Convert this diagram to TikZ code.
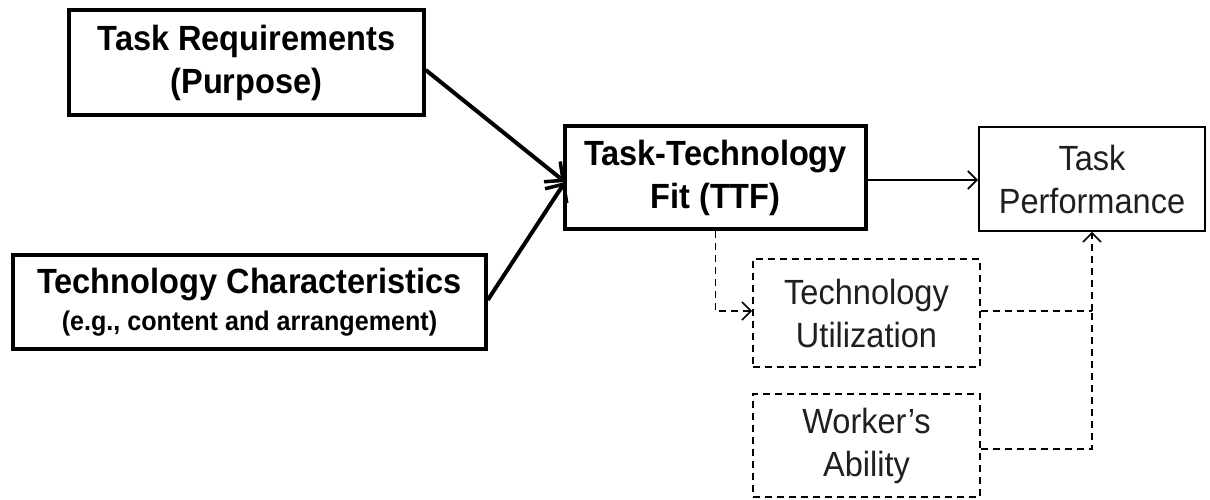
\documentclass[tikz,border=0pt]{standalone}
\usepackage{fontspec}
\setmainfont[FakeStretch=0.93]{Liberation Sans}
\usetikzlibrary{arrows.meta}
\begin{document}
\begin{tikzpicture}[x=1pt,y=-1pt,
  box/.style={draw=black,rectangle,align=center,inner sep=0pt,
    font=\fontsize{35}{43}\selectfont},
  strongbox/.style={box,line width=3.5pt,font=\fontsize{35}{43}\selectfont\bfseries},
  plainbox/.style={box,line width=1.8pt,text=black!88},
  dashbox/.style={box,line width=1.8pt,dash pattern=on 7pt off 5pt,text=black!88},
  strongarrow/.style={line width=4pt,-{Straight Barb[length=14pt,width=26pt,line width=3.5pt]}},
  thinarrow/.style={line width=1.8pt,-{Straight Barb[length=9pt,width=18pt,line width=1.8pt]}},
  dasharrow/.style={line width=1.6pt,dash pattern=on 7pt off 5pt,
    -{Straight Barb[length=9pt,width=18pt,line width=1.6pt]}},
  dashline/.style={line width=1.6pt,dash pattern=on 7pt off 5pt}]
\useasboundingbox (0,0) rectangle (1210,499);

% boxes
\node[strongbox,minimum width=355pt,minimum height=105pt] (treq) at (246.5,62.5)
  {Task Requirements\\(Purpose)};
\node[strongbox,minimum width=473pt,minimum height=94pt] (tchar) at (249.5,302)
  {Technology Characteristics\\[-6pt]{\fontsize{27}{30}\selectfont (e.g., content and arrangement)}};
\node[strongbox,minimum width=301pt,minimum height=103pt] (ttf) at (715.5,177.5)
  {Task-Technology\\Fit (TTF)};
\node[plainbox,minimum width=226pt,minimum height=104pt] (tperf) at (1092,179)
  {Task\\Performance};
\node[dashbox,minimum width=227pt,minimum height=108pt] (tutil) at (866.5,313)
  {Technology\\Utilization};
\node[dashbox,minimum width=227pt,minimum height=103pt] (ability) at (866.5,445.5)
  {Worker's\\Ability};

% connectors
\coordinate (ttfin) at (565,182);
\draw[strongarrow] (treq.east |- 0,70) -- (ttfin);
\draw[strongarrow] (tchar.east |- 0,300) -- (ttfin);
\draw[thinarrow] (ttf.east |- 0,180) -- (tperf.west |- 0,180);
\draw[dasharrow] (ttf.south) |- (tutil.west |- 0,311);
\coordinate (join) at (1092,311);
\draw[dashline] (tutil.east |- 0,311) -- (join);
\draw[dashline] (ability.east |- 0,449) -| (join);
\draw[dasharrow] (join) -- (tperf.south);
\end{tikzpicture}
\end{document}
